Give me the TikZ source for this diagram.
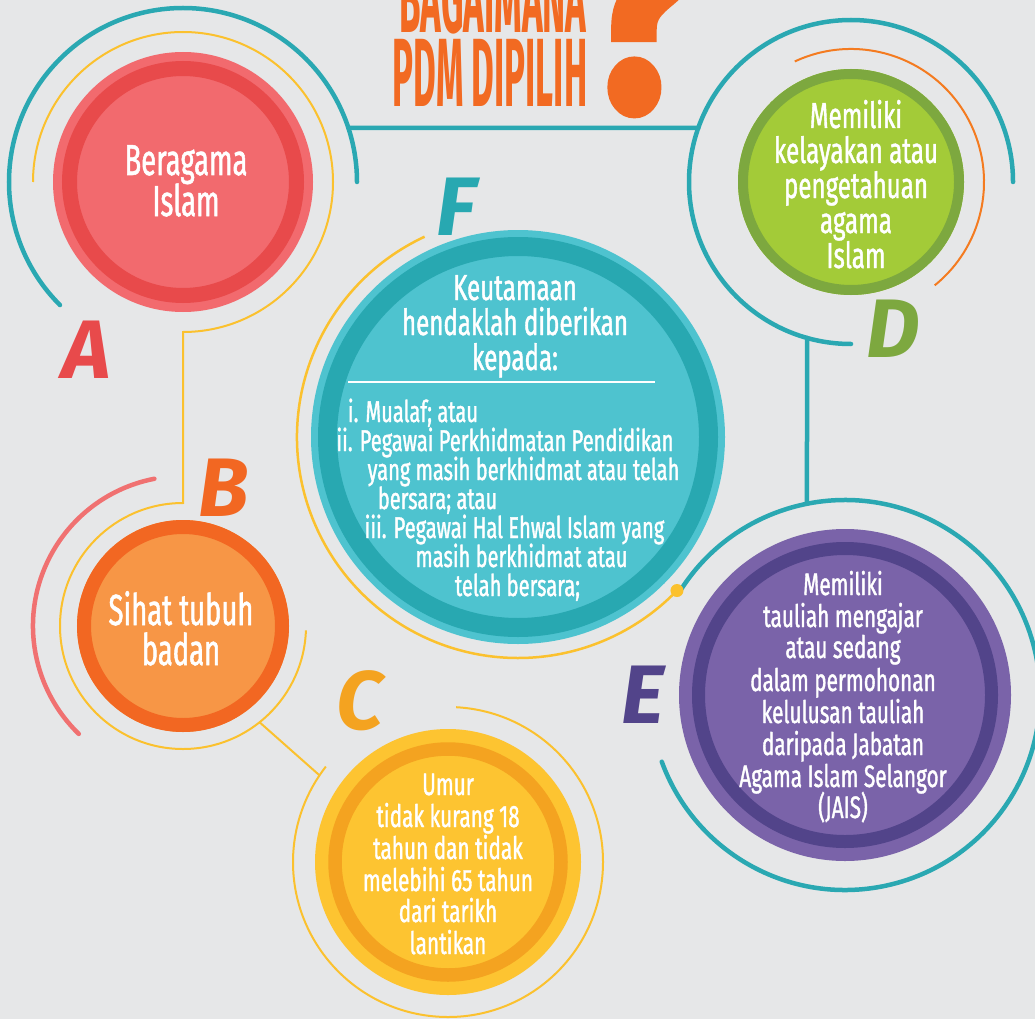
\documentclass[tikz,border=0pt]{standalone}
\usepackage{fontspec}
\setmainfont{Fira Sans}
\newfontfamily\cf[FakeStretch=0.67, FakeBold=1.2]{Fira Sans}
\newfontfamily\cfa[FakeStretch=0.63, FakeBold=1.2]{Fira Sans}
\newfontfamily\tf[FakeStretch=0.36]{Fira Sans}
\newfontfamily\qf[FakeStretch=0.85, FakeBold=4]{Fira Sans}
\usetikzlibrary{calc}
\definecolor{bg}{HTML}{E6E7E8}
\definecolor{tealc}{HTML}{2AA8B2}
\definecolor{yel}{HTML}{FBC12E}
\definecolor{pinkc}{HTML}{F07171}
\definecolor{orgarc}{HTML}{F47B20}
\definecolor{titleor}{HTML}{F26A22}
\definecolor{Aout}{HTML}{F26A6E}
\definecolor{Aring}{HTML}{E84A4B}
\definecolor{Bring}{HTML}{F26722}
\definecolor{Bin}{HTML}{F79646}
\definecolor{Cout}{HTML}{FDC431}
\definecolor{Cring}{HTML}{F4A320}
\definecolor{Dring}{HTML}{7DA83F}
\definecolor{Din}{HTML}{A3CB38}
\definecolor{Eout}{HTML}{7A63A9}
\definecolor{Ering}{HTML}{52448A}
\definecolor{Fout}{HTML}{4EC3CF}
\definecolor{Fring}{HTML}{28A8B1}
\tikzset{
  tealline/.style={draw=tealc, line width=4.5pt, line cap=round},
  yelline/.style={draw=yel, line width=2pt},
  bubble/.style={circle, inner sep=0pt},
  wt/.style={text=white, inner sep=0pt, anchor=base},
  letter/.style={inner sep=0pt, font=\bfseries\itshape\fontsize{83}{83}\selectfont},
  fa/.style={font=\cfa\fontsize{43.5}{44}\selectfont},
  fd/.style={font=\cf\fontsize{36}{36}\selectfont},
  fc/.style={font=\cf\fontsize{31}{31}\selectfont},
  fl/.style={font=\cf\fontsize{30}{30}\selectfont},
}
\begin{document}
\begin{tikzpicture}[x=1pt,y=1pt]
\useasboundingbox (0,0) rectangle (1035,-1019);
\fill[bg] (0,0) rectangle (1035,-1019);

% centres
\coordinate (A) at (183,-182);
\coordinate (B) at (183,-626);
\coordinate (C) at (448,-862);
\coordinate (D) at (851,-182);
\coordinate (E) at (845,-695);
\coordinate (F) at (518,-437);

% junction coordinates
\coordinate (tA) at ([shift={(18.1:174pt)}]A);
\coordinate (tD) at ([shift={(160.5:162pt)}]D);
\coordinate (tD2) at ([shift={(254.25:162pt)}]D);
\coordinate (tE) at ([shift={(101.25:195pt)}]E);
\coordinate (yA) at ([shift={(-90:150pt)}]A);
\coordinate (yB) at ([shift={(90:123pt)}]B);
\coordinate (yB2) at ([shift={(-51.5:123pt)}]B);
\coordinate (yC) at ([shift={(146:155pt)}]C);
\coordinate (dotF) at ([shift={(316:221pt)}]F);

% arcs
\draw[tealline] ([shift={(225:174pt)}]A) arc[start angle=225, end angle=0, radius=174pt];
\draw[yelline] ([shift={(180:150pt)}]A) arc[start angle=180, end angle=-90, radius=150pt] -- (yB)
   arc[start angle=90, end angle=358, radius=123pt];
\draw[draw=pinkc, line width=4.5pt, line cap=round] ([shift={(101:150pt)}]B) arc[start angle=101, end angle=226, radius=150pt];
\draw[yelline] (yB2) -- (yC);
\draw[yelline] ([shift={(87:155pt)}]C) arc[start angle=87, end angle=-218, radius=155pt];
\draw[tealline] ([shift={(0:162pt)}]D) arc[start angle=0, end angle=270, radius=162pt];
\draw[draw=orgarc, line width=2pt] ([shift={(115:133pt)}]D) arc[start angle=115, end angle=-51, radius=133pt];
\draw[tealline] (tA) -- (tD);
\draw[tealline] (tD2) -- (tE);
\draw[tealline] ([shift={(148.5:195pt)}]E) arc[start angle=148.5, end angle=-160, radius=195pt];
\draw[yelline, draw=yel, line width=2.5pt] ([shift={(115:221pt)}]F) arc[start angle=115, end angle=316, radius=221pt];
\fill[yel] (dotF) circle[radius=6.5pt];

% bubbles
\node[bubble, fill=Aout, minimum size=260pt] (nA) at (A) {};
\draw[Aring, line width=15pt] (A) circle[radius=113.5pt];
\node[bubble, fill=Bin, minimum size=212pt] (nB) at (B) {};
\draw[Bring, line width=14pt] (B) circle[radius=99pt];
\node[bubble, fill=Cout, minimum size=266pt] (nC) at (C) {};
\draw[Cring, line width=13.5pt] (C) circle[radius=113pt];
\node[bubble, fill=Din, minimum size=226pt] (nD) at (D) {};
\draw[Dring, line width=10pt] (D) circle[radius=108pt];
\node[bubble, fill=Eout, minimum size=332pt] (nE) at (E) {};
\draw[Ering, line width=13pt] (E) circle[radius=146.5pt];
\node[bubble, fill=Fout, minimum size=414pt] (nF) at (F) {};
\draw[Fring, line width=19pt] (F) circle[radius=190.5pt];

% title
\node[anchor=base, inner sep=0pt, text=titleor, font=\tf\bfseries\fontsize{97}{97}\selectfont] (T1) at (493,-33) {BAGAIMANA};
\node[anchor=base, inner sep=0pt, text=titleor, font=\tf\bfseries\fontsize{97}{97}\selectfont] (T2) at (490,-107) {PDM DIPILIH};
\node[anchor=base, inner sep=0pt, text=titleor, font=\qf\bfseries\fontsize{280}{280}\selectfont] (Q) at (640,-108) {?};

% A text
\node[wt, fa] (A1) at (186,-175) {Beragama};
\node[wt, fa] (A2) at (186,-216) {Islam};
% B text
\node[wt, fa] (B1) at (181,-625) {Sihat tubuh};
\node[wt, fa] (B2) at (181,-665) {badan};
% C text
\node[wt, fc] (C1) at (448,-795) {Umur};
\node[wt, fc] (C2) at (448,-827) {tidak kurang 18};
\node[wt, fc] (C3) at (448,-859) {tahun dan tidak};
\node[wt, fc] (C4) at (448,-891) {melebihi 65 tahun};
\node[wt, fc] (C5) at (448,-922) {dari tarikh};
\node[wt, fc] (C6) at (448,-954) {lantikan};
% D text
\node[wt, fd] (D1) at (856,-128) {Memiliki};
\node[wt, fd] (D2) at (856,-163) {kelayakan atau};
\node[wt, fd] (D3) at (856,-198) {pengetahuan};
\node[wt, fd] (D4) at (856,-233) {agama};
\node[wt, fd] (D5) at (856,-268) {Islam};
% E text
\node[wt, fc] (E1) at (843,-595) {Memiliki};
\node[wt, fc] (E2) at (843,-627) {tauliah mengajar};
\node[wt, fc] (E3) at (843,-658) {atau sedang};
\node[wt, fc] (E4) at (843,-691) {dalam permohonan};
\node[wt, fc] (E5) at (843,-723) {kelulusan tauliah};
\node[wt, fc] (E6) at (843,-755) {daripada Jabatan};
\node[wt, fc] (E7) at (843,-787) {Agama Islam Selangor};
\node[wt, fc] (E8) at (843,-818) {(JAIS)};
% F text
\node[wt, fd] (F1) at (515,-300) {Keutamaan};
\node[wt, fd] (F2) at (515,-335) {hendaklah diberikan};
\node[wt, fd] (F3) at (515,-370) {kepada:};
\coordinate (rl) at (348,-382);
\coordinate (rr) at (655,-382);
\draw[white, line width=2pt] (rl) -- (rr);
\node[wt, fl] (F4) at (413,-422) {i. Mualaf; atau};
\node[wt, fl] (F5) at (505,-451) {ii. Pegawai Perkhidmatan Pendidikan};
\node[wt, fl] (F6) at (523.5,-480) {yang masih berkhidmat atau telah};
\node[wt, fl] (F7) at (437.5,-509) {bersara; atau};
\node[wt, fl] (F8) at (514.5,-538) {iii. Pegawai Hal Ehwal Islam yang};
\node[wt, fl] (F9) at (521.5,-567) {masih berkhidmat atau};
\node[wt, fl] (F10) at (517.5,-596) {telah bersara;};

% letters
\node[letter, text=Aring] (LA) at (87,-350) {A};
\node[letter, text=Bring] (LB) at (224,-488) {B};
\node[letter, text=Cring] (LC) at (360,-701) {C};
\node[letter, text=Dring] (LD) at (893,-329) {D};
\node[letter, text=Ering] (LE) at (643,-695) {E};
\node[letter, text=Fring] (LF) at (456,-207) {F};
\end{tikzpicture}
\end{document}
